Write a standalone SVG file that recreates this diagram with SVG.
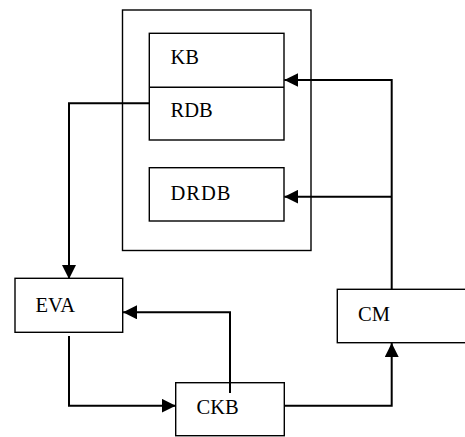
<svg xmlns="http://www.w3.org/2000/svg" width="465" height="437" viewBox="0 0 465 437">
<defs>
<style>
.box{fill:#fff;stroke:#000;stroke-width:1.4}
.ln{fill:none;stroke:#000;stroke-width:2}
text{font-family:"Liberation Serif","Times New Roman",serif;font-size:20.5px;fill:#000}
</style>
<marker id="ah2" viewBox="0 0 14 14" refX="14" refY="7" markerWidth="14" markerHeight="14" markerUnits="userSpaceOnUse" orient="auto">
<path d="M0,0 L14,7 L0,14 z" fill="#000"/>
</marker>
</defs>
<g id="container">
<rect class="box" x="122.5" y="10" width="188.5" height="240.5"/>
</g>
<g id="kb-rdb">
<rect class="box" x="149.3" y="33.3" width="134.7" height="106.7"/>
<line class="box" x1="149.3" y1="87.3" x2="284" y2="87.3"/>
<text x="170.5" y="63.5">KB</text>
<text x="170.5" y="117">RDB</text>
</g>
<g id="drdb">
<rect class="box" x="149.3" y="167.7" width="134.7" height="53.3"/>
<text x="170.5" y="200" textLength="60" lengthAdjust="spacing">DRDB</text>
</g>
<g id="eva">
<rect class="box" x="15" y="278.3" width="107.7" height="54"/>
<text x="35.5" y="311.5">EVA</text>
</g>
<g id="ckb">
<rect class="box" x="175.7" y="382.7" width="108.6" height="53"/>
<text x="196.5" y="414">CKB</text>
</g>
<g id="cm">
<rect class="box" x="337.3" y="289.3" width="130" height="53.4"/>
<text x="358" y="321">CM</text>
</g>
<g id="connectors">
<polyline class="ln" points="149.3,103.3 69,103.3 69,279" marker-end="url(#ah2)"/>
<polyline class="ln" points="69,336 69,405.7 175.7,405.7" marker-end="url(#ah2)"/>
<polyline class="ln" points="230,393 230,312.3 123,312.3" marker-end="url(#ah2)"/>
<polyline class="ln" points="284.3,405.7 391.7,405.7 391.7,343" marker-end="url(#ah2)"/>
<polyline class="ln" points="391.7,289.3 391.7,80 284.3,80" marker-end="url(#ah2)"/>
<polyline class="ln" points="391.7,196.7 284.3,196.7" marker-end="url(#ah2)"/>
</g>
</svg>
